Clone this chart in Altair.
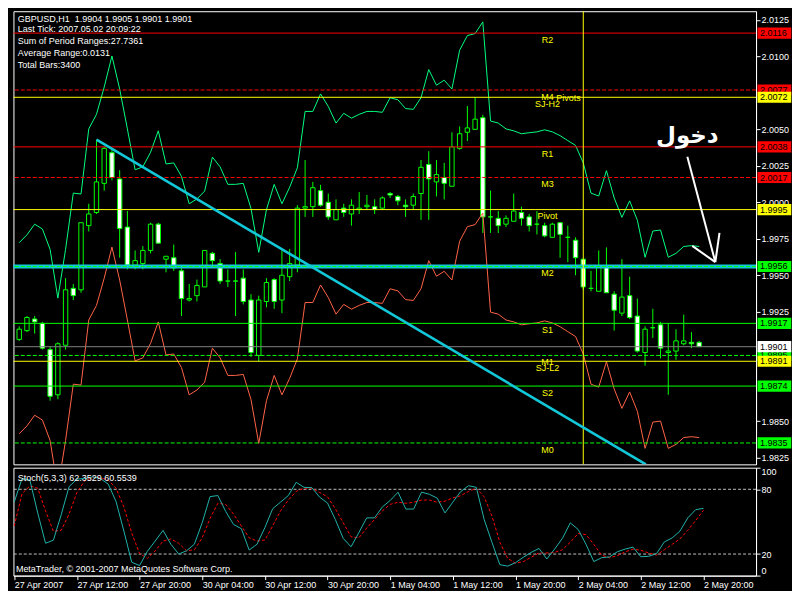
import altair as alt
import pandas as pd

# ---------------- data ----------------
time_labels = ["27 Apr 2007", "27 Apr 12:00", "27 Apr 20:00", "30 Apr 04:00", "30 Apr 12:00",
               "30 Apr 20:00", "1 May 04:00", "1 May 12:00", "1 May 20:00", "2 May 04:00",
               "2 May 12:00", "2 May 20:00"]

opens = [1.9906, 1.9912, 1.9920, 1.9917, 1.9899, 1.9868, 1.9902, 1.9941, 1.9940, 1.9984,
         1.9993, 2.0013, 2.0034, 2.0016, 1.9983, 1.9957, 1.9958, 1.9967, 1.9985, 1.9961,
         1.9962, 1.9953, 1.9933, 1.9936, 1.9942, 1.9965, 1.9958, 1.9946, 1.9946, 1.9948,
         1.9933, 1.9895, 1.9932, 1.9947, 1.9933, 1.9949, 1.9957, 1.9996, 1.9997, 2.0008,
         2.0000, 1.9988, 1.9996, 1.9992, 1.9995, 1.9997, 1.9997, 1.9996, 2.0006, 2.0004,
         1.9998, 1.9998, 2.0006, 2.0026, 2.0014, 2.0017, 2.0011, 2.0037, 2.0048, 2.0050,
         2.0058, 1.9990, 1.9989, 1.9985, 1.9987, 1.9993, 1.9990, 1.9985, 1.9984, 1.9976,
         1.9986, 1.9976, 1.9974, 1.9961, 1.9941, 1.9939, 1.9956, 1.9937, 1.9924, 1.9936,
         1.9922, 1.9897, 1.9914, 1.9916, 1.9897, 1.9898, 1.9903, 1.9904, 1.9904]
highs = [1.9915, 1.9922, 1.9922, 1.9918, 1.9901, 1.9904, 1.9948, 1.9944, 1.9986, 1.9999,
         2.0043, 2.0038, 2.0036, 2.0022, 1.9994, 1.9967, 1.9970, 1.9986, 1.9986, 1.9963,
         1.9971, 1.9955, 1.9944, 1.9947, 1.9967, 1.9966, 1.9961, 1.9954, 1.9966, 1.9954,
         1.9937, 1.9936, 1.9948, 1.9948, 1.9967, 1.9968, 1.9998, 2.0029, 2.0014, 2.0012,
         2.0006, 2.0002, 1.9999, 2.0002, 2.0007, 2.0005, 2.0002, 2.0004, 2.0007, 2.0005,
         2.0002, 2.0006, 2.0029, 2.0035, 2.0029, 2.0027, 2.0048, 2.0052, 2.0066, 2.0072,
         2.0060, 2.0008, 1.9994, 1.9991, 2.0006, 1.9997, 1.9992, 1.9994, 1.9986, 1.9986,
         1.9986, 1.9984, 1.9976, 1.9961, 1.9953, 1.9967, 1.9969, 1.9939, 1.9961, 1.9949,
         1.9934, 1.9915, 1.9927, 1.9918, 1.9917, 1.9913, 1.9923, 1.9911, 1.9905]
lows = [1.9905, 1.9911, 1.9910, 1.9899, 1.9864, 1.9865, 1.9899, 1.9933, 1.9938, 1.9980,
        1.9992, 2.0008, 2.0015, 1.9962, 1.9954, 1.9954, 1.9954, 1.9965, 1.9972, 1.9952,
        1.9953, 1.9922, 1.9932, 1.9932, 1.9942, 1.9957, 1.9944, 1.9942, 1.9922, 1.9930,
        1.9894, 1.9891, 1.9928, 1.9927, 1.9924, 1.9946, 1.9952, 1.9990, 1.9990, 1.9997,
        1.9988, 1.9988, 1.9990, 1.9984, 1.9992, 1.9995, 1.9992, 1.9995, 2.0003, 1.9998,
        1.9990, 1.9995, 1.9988, 1.9988, 2.0004, 2.0002, 2.0011, 2.0036, 2.0042, 2.0050,
        1.9979, 1.9979, 1.9979, 1.9983, 1.9987, 1.9984, 1.9980, 1.9978, 1.9976, 1.9976,
        1.9962, 1.9959, 1.9950, 1.9940, 1.9939, 1.9939, 1.9938, 1.9912, 1.9922, 1.9920,
        1.9897, 1.9888, 1.9907, 1.9893, 1.9868, 1.9892, 1.9902, 1.9900, 1.9901]
closes = [1.9913, 1.9921, 1.9918, 1.9900, 1.9867, 1.9903, 1.9940, 1.9936, 1.9986, 1.9992,
          2.0014, 2.0037, 2.0017, 1.9982, 1.9957, 1.9960, 1.9967, 1.9985, 1.9972, 1.9963,
          1.9955, 1.9934, 1.9934, 1.9943, 1.9967, 1.9960, 1.9946, 1.9946, 1.9946, 1.9932,
          1.9897, 1.9933, 1.9945, 1.9932, 1.9950, 1.9958, 1.9996, 1.9997, 2.0010, 1.9998,
          1.9990, 1.9995, 1.9993, 1.9998, 1.9996, 1.9998, 1.9995, 2.0003, 2.0005, 2.0001,
          1.9997, 2.0004, 2.0024, 2.0016, 2.0019, 2.0013, 2.0038, 2.0047, 2.0051, 2.0057,
          1.9990, 1.9990, 1.9984, 1.9989, 1.9994, 1.9989, 1.9984, 1.9985, 1.9977, 1.9985,
          1.9978, 1.9976, 1.9962, 1.9942, 1.9941, 1.9956, 1.9938, 1.9926, 1.9935, 1.9921,
          1.9898, 1.9913, 1.9914, 1.9900, 1.9898, 1.9905, 1.9905, 1.9903, 1.9901]

band_upper = [1.99723, 1.99777, 1.9985, 1.99817, 1.99677, 1.99343, 1.99677, 2.00063, 2.00057, 2.00503,
              2.00603, 2.0079, 2.01003, 2.00777, 2.00503, 2.00223, 2.00243, 2.00343, 2.0049, 2.00263,
              2.0027, 2.00177, 1.9999, 2.00023, 2.00077, 2.0031, 2.00243, 2.00123, 2.00123, 2.0013,
              1.99957, 1.99657, 1.9995, 2.00123, 1.9999, 2.00103, 2.00237, 2.00623, 2.00623, 2.00743,
              2.00657, 2.00543, 2.0061, 2.00577, 2.00603, 2.00623, 2.00623, 2.00617, 2.00717, 2.00703,
              2.00643, 2.00637, 2.00717, 2.0091, 2.00803, 2.00837, 2.00777, 2.01043, 2.01143, 2.01157,
              2.01237, 2.00557, 2.00543, 2.00503, 2.0049, 2.0047, 2.00477, 2.00483, 2.00497, 2.00483,
              2.00457, 2.00423, 2.0039, 2.0027, 2.00063, 2.00043, 2.00217, 2.0003, 1.99897, 2.0001,
              1.99877, 1.99623, 1.99803, 1.9981, 1.99623, 1.9965, 1.99697, 1.99703, 1.99697]
band_lower = [1.98413, 1.98467, 1.9854, 1.98507, 1.98367, 1.98033, 1.98367, 1.98753, 1.98747, 1.99193,
              1.99293, 1.9948, 1.99693, 1.99467, 1.99193, 1.98913, 1.98933, 1.99033, 1.9918, 1.98953,
              1.9896, 1.98867, 1.9868, 1.98713, 1.98767, 1.99, 1.98933, 1.98813, 1.98813, 1.9882,
              1.98647, 1.98347, 1.9864, 1.98813, 1.9868, 1.98793, 1.98927, 1.99313, 1.99313, 1.99433,
              1.99347, 1.99233, 1.993, 1.99267, 1.99293, 1.99313, 1.99313, 1.99307, 1.99407, 1.99393,
              1.99333, 1.99327, 1.99407, 1.996, 1.99493, 1.99527, 1.99467, 1.99733, 1.99833, 1.99847,
              1.99927, 1.99247, 1.99233, 1.99193, 1.9918, 1.9916, 1.99167, 1.99173, 1.99187, 1.99173,
              1.99147, 1.99113, 1.9908, 1.9896, 1.98753, 1.98733, 1.98907, 1.9872, 1.98587, 1.987,
              1.98567, 1.98313, 1.98493, 1.985, 1.98313, 1.9834, 1.98387, 1.98393, 1.98387]

stoch_main = [68.1, 90.0, 88.5, 58.1, 30.0, 32.8, 56.5, 82.4, 89.4, 90.0,
              91.5, 90.0, 84.8, 68.7, 41.3, 12.4, 9.3, 22.5, 32.1, 41.9,
              29.1, 20.0, 23.0, 29.1, 49.0, 73.2, 74.2, 59.5, 47.4, 43.5,
              23.7, 29.1, 44.4, 62.0, 68.1, 74.2, 86.4, 81.8, 81.5, 72.7,
              67.2, 52.0, 34.6, 26.7, 39.8, 53.5, 53.5, 63.6, 69.6, 77.3,
              61.7, 61.7, 77.3, 75.4, 71.8, 58.1, 68.1, 77.8, 83.3, 81.8,
              52.0, 30.7, 10.2, 8.8, 12.0, 17.0, 21.5, 25.2, 15.4, 24.6,
              34.6, 48.9, 42.8, 29.1, 13.0, 16.6, 17.3, 22.1, 24.6, 26.4,
              17.5, 17.9, 20.3, 31.2, 34.9, 41.3, 53.5, 61.1, 62.3529]
stoch_signal = [46.0, 76.0, 83.0, 81.0, 60.0, 41.0, 42.0, 57.0, 77.0, 88.0,
                91.0, 90.5, 88.6, 81.0, 63.5, 39.5, 20.5, 16.0, 23.0, 32.0,
                34.0, 30.0, 23.0, 24.0, 35.0, 53.0, 67.0, 66.0, 57.0, 46.0,
                35.0, 32.0, 33.0, 46.0, 60.0, 70.0, 78.0, 81.0, 81.0, 77.0,
                73.0, 62.0, 49.0, 36.0, 35.0, 44.0, 52.0, 60.0, 66.0, 68.0,
                67.0, 68.0, 70.0, 70.0, 68.0, 69.0, 72.0, 74.0, 78.0, 81.0,
                73.0, 55.0, 31.0, 16.0, 11.5, 13.0, 17.0, 21.0, 21.0, 21.5,
                24.0, 31.0, 39.0, 38.0, 29.0, 19.0, 16.5, 18.5, 22.0, 24.5,
                23.5, 21.0, 19.0, 24.0, 29.0, 34.0, 42.0, 51.0, 60.5539]

level_names = ["R2", "M4", "SJ-H2", "R1", "M3", "Pivot", "M2", "S1", "M1", "SJ-L2", "S2", "M0"]
level_prices = [2.0116, 2.0077, 2.0072, 2.0038, 2.0017, 1.9995, 1.9956, 1.9917, 1.9895, 1.9891, 1.9874, 1.9835]
level_colors = ["#FF0000", "#FF0000", "#FFFF00", "#FF0000", "#FF0000", "#FFFF00",
                "#00FF00", "#00FF00", "#00FF00", "#FFFF00", "#00FF00", "#00FF00"]
level_dashed = [False, True, False, False, True, False, True, False, True, False, False, True]
pivots_label = "Pivots"
pivots_label_price = 2.0077

bid_price = 1.9901
cyan_level = 1.9956
vline_bar = 73
trend_bars = [10.0, 81.1]
trend_prices = [2.0043, 1.98203]
arrow_seg = [0, 0, 1, 1, 2, 2]
arrow_bars = [86.47, 90.09, 87.1, 90.09, 90.63, 90.09]
arrow_prices = [2.00312, 1.9959, 1.99701, 1.9959, 1.9979, 1.9959]
note_bar = 86.46
note_price = 2.00457
note_text = "دخول"

box_prices = [2.0077, 1.9895, 2.0116, 2.0072, 2.0038, 2.0017, 1.9995, 1.9956, 1.9917, 1.9901, 1.9891, 1.9874, 1.9835]
box_colors = ["#FF0000", "#00FF00", "#FF0000", "#FFFF00", "#FF0000", "#FF0000", "#FFFF00",
              "#00FF00", "#00FF00", "#FFFFFF", "#FFFF00", "#00FF00", "#00FF00"]
price_ticks = [2.0125, 2.0100, 2.0050, 2.0025, 2.0000, 1.9975, 1.9950, 1.9925, 1.9850, 1.9825]

info_lines = ["GBPUSD,H1 \u00a01.9904 1.9905 1.9901 1.9901",
              "Last Tick: 2007.05.02 20:09:22",
              "Sum of Period Ranges:27.7361",
              "Average Range:0.0131",
              "Total Bars:3400"]
stoch_title = "Stoch(5,3,3) 62.3529 60.5539"
copyright_text = "MetaTrader, \u00a9 2001-2007 MetaQuotes Software Corp."

# ---------------- layout (reference pixels -> chart pixels) ----------------
SX = 784 / 800
SY = 584 / 600
PL, PR = 2.5, 761.0
MT, MB = 2.0, 468.0
ST, SB = 471.0, 582.0
W = (PR - PL) * SX
H1 = (MB - MT) * SY
H2 = (SB - ST) * SY
GAP = (ST - MB) * SY


def px(x):
    return (x - PL) * SX


def pym(y):
    return (y - MT) * SY


def pys(y):
    return (y - ST) * SY


X_DOM = [(PL - 3.3) / 8, (PR - 3.3) / 8]
P_DOM = [2.0125 - (MB - 11) / 15000, 2.0125 + (11 - MT) / 15000]

FONT = "Liberation Sans"
FS = 9
LIME = "#00FF00"
CYAN = "#12C8D8"

xs = alt.Scale(domain=X_DOM, nice=False, zero=False)
ys = alt.Scale(domain=P_DOM, nice=False, zero=False)
ss = alt.Scale(domain=[0, 100], nice=False, zero=False)

price_axis = alt.Axis(orient="right", values=price_ticks, format=".4f", title=None, grid=False,
                      tickSize=4, labelPadding=1, labelOverlap=False, labelBound=False,
                      labelFlush=False, zindex=0)
stoch_axis = alt.Axis(orient="right", values=[0, 20, 80, 100], title=None, grid=False,
                      tickSize=4, labelPadding=1, labelOverlap=False, labelFlush=True, zindex=0)
label_arr = "[" + ",".join("'" + t + "'" for t in time_labels) + "]"
time_axis = alt.Axis(orient="bottom", values=list(range(0, 89, 8)), title=None, grid=False,
                     tickSize=4, labelPadding=1, labelAlign="left", labelBaseline="top",
                     labelOverlap=False, labelFlush=False, labelBound=False,
                     labelExpr=label_arr + "[round(datum.value/8)]")

N = len(opens)
bars = pd.DataFrame({"k": list(range(N)), "open": opens, "high": highs, "low": lows, "close": closes})
bars["body"] = ["#000000" if c >= o else "#FFFFFF" for o, c in zip(opens, closes)]
band = pd.DataFrame({"k": list(range(N)), "upper": band_upper, "lower": band_lower})
stoch = pd.DataFrame({"k": list(range(N)), "main": stoch_main, "signal": stoch_signal})
levels = pd.DataFrame({"name": level_names, "price": level_prices, "color": level_colors,
                       "dashed": level_dashed})
boxes = pd.DataFrame({"price": box_prices, "bg": box_colors,
                      "label": [f"{p:.4f}" for p in box_prices]})
trend = pd.DataFrame({"k": trend_bars, "p": trend_prices})
arrow = pd.DataFrame({"seg": arrow_seg, "k": arrow_bars, "p": arrow_prices,
                      "i": list(range(len(arrow_seg)))})


def X(field):
    return alt.X(field, type="quantitative", scale=xs, axis=None)


def Y(field):
    return alt.Y(field, type="quantitative", scale=ys, axis=price_axis)


wicks = alt.Chart(bars).mark_rule(color=LIME, strokeWidth=1, clip=True).encode(
    x=X("k"), y=Y("low"), y2="high")
bodies = alt.Chart(bars).mark_bar(size=4.4, stroke=LIME, strokeWidth=1, clip=True).encode(
    x=X("k"), y=Y("open"), y2="close", fill=alt.Fill("body:N", scale=None))
upper_line = alt.Chart(band).mark_line(color="#00FF7F", strokeWidth=1, clip=True).encode(
    x=X("k"), y=Y("upper"))
lower_line = alt.Chart(band).mark_line(color="#FF6347", strokeWidth=1, clip=True).encode(
    x=X("k"), y=Y("lower"))
cyan_h = alt.Chart(pd.DataFrame({"p": [cyan_level]})).mark_rule(
    color=CYAN, strokeWidth=3.9).encode(y=Y("p"))
solid_lv = alt.Chart(levels[~levels["dashed"]]).mark_rule(strokeWidth=1).encode(
    y=Y("price"), color=alt.Color("color:N", scale=None))
dash_lv = alt.Chart(levels[levels["dashed"]]).mark_rule(strokeWidth=1, strokeDash=[4, 2]).encode(
    y=Y("price"), color=alt.Color("color:N", scale=None))
bid = alt.Chart(pd.DataFrame({"p": [bid_price]})).mark_rule(color="#808080", strokeWidth=1).encode(
    y=Y("p"))
vline = alt.Chart(pd.DataFrame({"k": [vline_bar]})).mark_rule(color="#FFFF00", strokeWidth=1).encode(
    x=X("k"))
trendline = alt.Chart(trend).mark_line(color=CYAN, strokeWidth=2.6, clip=True).encode(
    x=X("k"), y=Y("p"))
level_text = alt.Chart(levels).mark_text(color="#FFFF00", font=FONT, fontSize=FS, align="center",
                                         baseline="middle", dy=7 * SY).encode(
    x=alt.value(px(548)), y=Y("price"), text="name:N")
pivots_text = alt.Chart(pd.DataFrame({"p": [pivots_label_price], "t": [pivots_label]})).mark_text(
    color="#FFFF00", font=FONT, fontSize=FS, align="left", baseline="middle", dy=8 * SY).encode(
    x=alt.value(px(557)), y=Y("p"), text="t:N")
arrow_l = alt.Chart(arrow).mark_line(color="white", strokeWidth=2).encode(
    x=X("k"), y=Y("p"), detail="seg:N", order="i:Q")
note = alt.Chart(pd.DataFrame({"k": [note_bar], "p": [note_price], "t": [note_text]})).mark_text(
    color="white", font="DejaVu Sans", fontWeight="bold", fontSize=23, align="center",
    baseline="middle").encode(x=X("k"), y=Y("p"), text="t:N")

BOX_W = (797 - 762.5) * SX
BOX_H = 11.5 * SY
box_cx = px((797 + 762.5) / 2)
txt_x = px(765)


def box_layers(df):
    b = alt.Chart(df).mark_tick(orient="horizontal", thickness=BOX_H, size=BOX_W, opacity=1).encode(
        x=alt.value(box_cx), y=Y("price"), color=alt.Color("bg:N", scale=None))
    t = alt.Chart(df).mark_text(color="black", font=FONT, fontSize=FS, align="left",
                                baseline="middle").encode(
        x=alt.value(txt_x), y=Y("price"), text="label:N")
    return [b, t]


info_y = [10, 20, 33, 45, 57]
info = [alt.Chart(pd.DataFrame({"t": [s]})).mark_text(
    color="white", font=FONT, fontSize=FS, align="left", baseline="middle").encode(
    x=alt.value(px(7)), y=alt.value(pym(yy)), text="t:N") for s, yy in zip(info_lines, info_y)]

main = alt.layer(
    wicks, bodies, upper_line, lower_line, cyan_h, solid_lv, dash_lv, bid, vline, trendline,
    level_text, pivots_text, arrow_l, note,
    *box_layers(boxes.iloc[:2]), *box_layers(boxes.iloc[2:]),
    *info
).properties(width=W, height=H1)


def SYe(field):
    return alt.Y(field, type="quantitative", scale=ss, axis=stoch_axis)


def SXe(field):
    return alt.X(field, type="quantitative", scale=xs, axis=time_axis)


st_levels = alt.Chart(pd.DataFrame({"v": [20, 80]})).mark_rule(
    color="#C0C0C0", strokeWidth=1, strokeDash=[3, 2]).encode(y=SYe("v"))
st_signal = alt.Chart(stoch).mark_line(color="#FF0000", strokeWidth=1, strokeDash=[3, 2], clip=True).encode(
    x=SXe("k"), y=SYe("signal"))
st_main = alt.Chart(stoch).mark_line(color="#20B2AA", strokeWidth=1, clip=True).encode(
    x=SXe("k"), y=SYe("main"))
st_title = alt.Chart(pd.DataFrame({"t": [stoch_title]})).mark_text(
    color="white", font=FONT, fontSize=FS, align="left", baseline="middle").encode(
    x=alt.value(px(7)), y=alt.value(pys(482)), text="t:N")
st_copy = alt.Chart(pd.DataFrame({"t": [copyright_text]})).mark_text(
    color="white", font=FONT, fontSize=FS, align="left", baseline="middle").encode(
    x=alt.value(px(5)), y=alt.value(pys(575.5)), text="t:N")

lower_pane = alt.layer(st_levels, st_signal, st_main, st_title, st_copy).properties(width=W, height=H2)

chart = alt.vconcat(main, lower_pane, spacing=GAP, bounds="flush").resolve_scale(
    x="independent", y="independent"
).properties(
    background="black",
    padding={"left": PL * SX, "top": MT * SY, "right": 0, "bottom": 0},
).configure_view(
    stroke="white", strokeWidth=1
).configure_axis(
    labelFont=FONT, labelFontSize=FS, labelColor="white", tickColor="white",
    domainColor="white", domainWidth=1, tickWidth=1
)

chart.save("out.html", embed_options={"renderer": "svg", "actions": False})
